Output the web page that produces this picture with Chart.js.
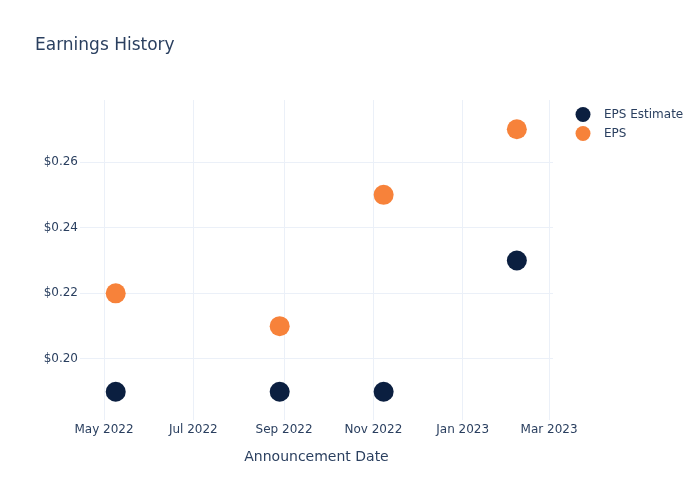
<!DOCTYPE html>
<html>
<head>
<meta charset="utf-8">
<script src="https://cdn.jsdelivr.net/npm/chart.js@4.4.0/dist/chart.umd.min.js"></script>
<style>
  html, body { margin: 0; padding: 0; background: #ffffff; }
  #wrap { width: 700px; height: 500px; }
</style>
</head>
<body>
<div id="wrap"><canvas id="c" width="700" height="500"></canvas></div>
<script>
// ---- data ----
const announcementDates = ["2022-05-09", "2022-08-29", "2022-11-08", "2023-02-07"];
const epsEstimate = [0.19, 0.19, 0.19, 0.23];
const epsActual = [0.22, 0.21, 0.25, 0.27];
const xTickDates = ["2022-05-01", "2022-07-01", "2022-09-01", "2022-11-01", "2023-01-01", "2023-03-01"];
const yTickValues = [0.20, 0.22, 0.24, 0.26];
const seriesNames = ["EPS Estimate", "EPS"];
const chartTitle = "Earnings History";
const xAxisTitle = "Announcement Date";

const MONTHS = ["Jan","Feb","Mar","Apr","May","Jun","Jul","Aug","Sep","Oct","Nov","Dec"];
const DAY = 86400000;
const ts = s => Date.parse(s + "T00:00:00Z");
const fmtDate = v => { const d = new Date(v); return MONTHS[d.getUTCMonth()] + " " + d.getUTCFullYear(); };

const TEXT = "#2a3f5f";
const GRID = "#ebf0f8";
const FONT = "'DejaVu Sans', Verdana, sans-serif";
const NAVY = "#0b1f40";
const ORANGE = "#f7823a";

const toPoints = vals => announcementDates.map((d, i) => ({ x: ts(d), y: vals[i] }));

const overlay = {
  id: "overlay",
  afterDraw(chart) {
    const ctx = chart.ctx;
    const area = chart.chartArea;
    ctx.save();
    ctx.fillStyle = TEXT;
    ctx.textBaseline = "middle";
    // title
    ctx.font = "17px " + FONT;
    ctx.textAlign = "left";
    ctx.fillText(chartTitle, 35, 46);
    // x axis title
    ctx.font = "14px " + FONT;
    ctx.textAlign = "center";
    ctx.fillText(xAxisTitle, (area.left + area.right) / 2, 457);
    // legend
    ctx.font = "12px " + FONT;
    ctx.textAlign = "left";
    chart.data.datasets.forEach((ds, i) => {
      const y = 115 + i * 19;
      ctx.beginPath();
      ctx.arc(583, y - 0.5, 7.5, 0, Math.PI * 2);
      ctx.fillStyle = ds.backgroundColor;
      ctx.fill();
      ctx.fillStyle = TEXT;
      ctx.fillText(ds.label, 604, y);
    });
    ctx.restore();
  }
};

new Chart(document.getElementById("c"), {
  type: "scatter",
  data: {
    datasets: [
      { label: seriesNames[0], data: toPoints(epsEstimate), backgroundColor: NAVY, borderWidth: 0, pointRadius: 10, pointHoverRadius: 10 },
      { label: seriesNames[1], data: toPoints(epsActual), backgroundColor: ORANGE, borderWidth: 0, pointRadius: 10, pointHoverRadius: 10 }
    ]
  },
  options: {
    responsive: false,
    animation: false,
    events: [],
    layout: { padding: { left: 0, right: 147, top: 100, bottom: 0 } },
    plugins: { legend: { display: false }, title: { display: false }, tooltip: { enabled: false } },
    scales: {
      x: {
        type: "linear",
        min: ts("2022-05-01") - 16.4 * DAY,
        max: ts("2023-03-01") + 2.7 * DAY,
        afterFit: s => { s.height = 80; },
        afterBuildTicks: s => { s.ticks = xTickDates.map(d => ({ value: ts(d) })); },
        ticks: { callback: v => fmtDate(v), color: TEXT, font: { family: FONT, size: 12 }, padding: 3, maxRotation: 0, autoSkip: false },
        grid: { color: GRID, drawTicks: false, lineWidth: 1 },
        border: { display: false }
      },
      y: {
        type: "linear",
        min: 0.1814,
        max: 0.2789,
        afterFit: s => { s.width = 80; },
        afterBuildTicks: s => { s.ticks = yTickValues.map(v => ({ value: v })); },
        ticks: { callback: v => "$" + v.toFixed(2), color: TEXT, font: { family: FONT, size: 12 }, padding: 2 },
        grid: { color: GRID, drawTicks: false, lineWidth: 1 },
        border: { display: false }
      }
    }
  },
  plugins: [overlay]
});
</script>
</body>
</html>
